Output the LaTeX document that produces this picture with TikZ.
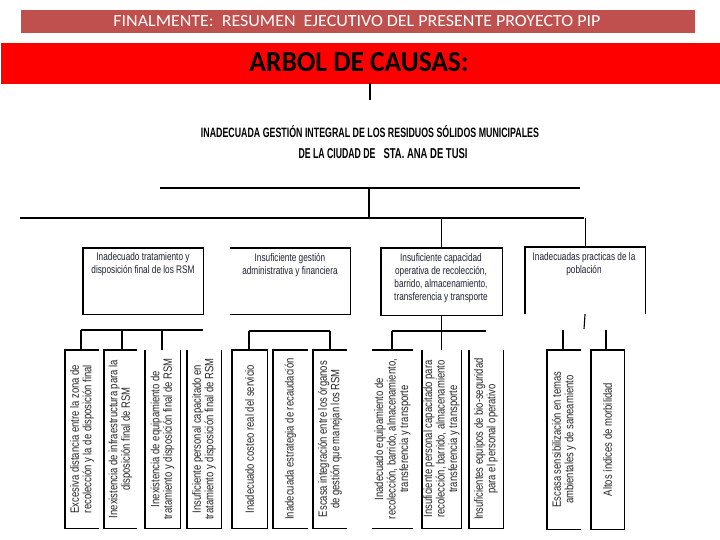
\documentclass[tikz,border=0pt]{standalone}
\usepackage{fontspec}
\setmainfont{Carlito}
\newfontfamily\lvfont[FakeStretch=0.75]{Liberation Sans}
\newfontfamily\btfont[FakeStretch=0.79]{Liberation Sans}
\newfontfamily\titlefont{Liberation Sans}
\definecolor{banner}{HTML}{C0504D}
\definecolor{txtdark}{HTML}{1E2233}
\begin{document}
\begin{tikzpicture}[x=1pt,y=-1pt,line width=1.1pt,
  frame/.style={draw=none,inner sep=0pt,anchor=north west},
  ltext/.style={inner sep=0pt,anchor=north,align=center,text=txtdark,
    font=\lvfont\fontsize{11}{13}\selectfont},
  btext/.style={inner sep=0pt,rotate=90,align=center,text=black!85,
    font=\btfont\fontsize{12}{12.5}\selectfont}]
\useasboundingbox (0,0) rectangle (720,540);
\fill[white] (0,0) rectangle (720,540);

% header banners
\node[frame,fill=banner,minimum width=674pt,minimum height=23pt] (hdr) at (20,9) {};
\node[text=white,inner sep=0pt] (hdrtext) at (357,21.5)
  {\resizebox{487pt}{11pt}{FINALMENTE:\ \ RESUMEN\ \ EJECUTIVO DEL PRESENTE PROYECTO PIP}};
\node[frame,fill=red,minimum width=720pt,minimum height=41pt] (band) at (0,42) {};
\node[inner sep=0pt] (bandtext) at (359,62.5)
  {\resizebox{219pt}{19pt}{\bfseries ARBOL DE CAUSAS:}};

% trunk and title
\coordinate (t0) at (370,83);
\coordinate (t1) at (370,100);
\draw (t0) -- (t1);
\node[inner sep=0pt] (title1) at (370,131.5)
  {\resizebox{338pt}{12pt}{\titlefont\bfseries INADECUADA GESTIÓN INTEGRAL DE LOS RESIDUOS SÓLIDOS MUNICIPALES}};
\node[inner sep=0pt,anchor=base west] (title2) at (298,159)
  {\resizebox{77pt}{10pt}{\titlefont\bfseries DE LA CIUDAD DE}};
\node[inner sep=0pt,anchor=base west] (title3) at (383,159)
  {\resizebox{84pt}{10pt}{\titlefont\bfseries STA. ANA DE TUSI}};

% upper connectors
\coordinate (h1l) at (160,188);
\coordinate (h1r) at (580,188);
\coordinate (j1) at (369,188);
\coordinate (j2) at (369,218);
\coordinate (h2l) at (20,218);
\coordinate (h2r) at (584,218);
\draw (h1l) -- (h1r);
\draw (j1) -- (j2);
\draw (h2l) -- (h2r);

% level-2 boxes
\node[frame,minimum width=119pt,minimum height=65pt] (bA) at (83,248) {};
\node[frame,minimum width=119pt,minimum height=65pt] (bB) at (230,248) {};
\node[frame,minimum width=120pt,minimum height=66pt] (bC) at (381,248) {};
\node[frame,minimum width=119pt,minimum height=66pt] (bD) at (525,247) {};
\draw (bA.north west) rectangle (bA.south east);
\draw (bB.north west) -- (bB.north east) -- (bB.south east) -- (bB.south west);
\draw (bC.north west) rectangle (bC.south east);
\draw (bD.south west) -- (bD.north west) -- (bD.north east) -- (bD.south east);
\draw (bC.north) -- (bC.north |- h2l);
\draw (bD.north) -- (bD.north |- h2l);

\node[ltext] (tA) at (143,252) {Inadecuado tratamiento y\\disposición final de los RSM};
\node[ltext] (tB) at (290,253) {Insuficiente gestión\\administrativa y financiera};
\node[ltext] (tC) at (441,252.5) {Insuficiente capacidad\\operativa de recolección,\\barrido, almacenamiento,\\transferencia y transporte};
\node[ltext] (tD) at (584,252) {Inadecuadas practicas de la\\población};

% bottom boxes
\node[frame,minimum width=33pt,minimum height=177pt] (b1) at (65,350) {};
\node[frame,minimum width=32pt,minimum height=177pt] (b2) at (104,350) {};
\node[frame,minimum width=34pt,minimum height=177pt] (b3) at (145,350) {};
\node[frame,minimum width=33pt,minimum height=177pt] (b4) at (187,350) {};
\node[frame,minimum width=34pt,minimum height=177pt] (b5) at (232,350) {};
\node[frame,minimum width=34pt,minimum height=177pt] (b6) at (273,350) {};
\node[frame,minimum width=33pt,minimum height=177pt] (b7) at (313,350) {};
\node[frame,minimum width=40pt,minimum height=177pt] (b8) at (372,350) {};
\node[frame,minimum width=38pt,minimum height=177pt] (b9) at (422,350) {};
\node[frame,minimum width=33pt,minimum height=177pt] (b10) at (469,350) {};
\node[frame,minimum width=33pt,minimum height=178pt] (b11) at (547,350) {};
\node[frame,minimum width=32pt,minimum height=178pt] (b12) at (591,350) {};

\draw (b1.north east) -- (b1.north west) -- (b1.south west) -- (b1.south east);
\draw (b2.north east) -- (b2.north west) -- (b2.south west) -- (b2.south east);
\draw (b3.north west) -- (b3.south west) -- (b3.south east) -- (b3.north east);
\draw (b4.north west) -- (b4.south west) -- (b4.south east) -- (b4.north east);
\draw (b5.north west) rectangle (b5.south east);
\draw (b6.north east) -- (b6.north west) -- (b6.south west) -- (b6.south east);
\draw (b7.north east) -- (b7.north west) -- (b7.south west) -- (b7.south east);
\draw (b8.north west) -- (b8.north east);
\draw (b8.south west) -- (b8.south east);
\draw (b9.north west) -- (b9.south west) -- (b9.south east) -- (b9.north east);
\draw (b10.north west) -- (b10.south west) -- (b10.south east) -- (b10.north east);
\draw (b11.north east) -- (b11.north west) -- (b11.south west) -- (b11.south east);
\draw (b12.north west) rectangle (b12.south east);

\node[btext] (x1) at (b1.center) {Excesiva distancia entre la zona de\\recolección y la de disposición final};
\node[btext] (x2) at (b2.center) {Inexistencia de infraestructura para la\\disposición final de RSM};
\node[btext] (x3) at (b3.center) {Inexistencia de equipamiento de\\tratamiento y disposición final de RSM};
\node[btext] (x4) at (b4.center) {Insuficiente personal capacitado en\\tratamiento y disposición final de RSM};
\node[btext] (x5) at (b5.center) {Inadecuado costeo real del servicio};
\node[btext] (x6) at (b6.center) {Inadecuada estrategia de recaudación};
\node[btext] (x7) at (b7.center) {Escasa integración entre los órganos\\de gestión que manejan los RSM};
\node[btext] (x8) at (b8.center) {Inadecuado equipamiento de\\recolección, barrido, almacenamiento,\\transferencia y transporte};
\node[btext] (x9) at (b9.center) {Insuficiente personal capacitado para\\recolección, barrido, almacenamiento\\transferencia y transporte};
\node[btext] (x10) at (b10.center) {Insuficientes equipos de bio-seguridad\\para el personal operativo};
\node[btext] (x11) at (b11.center) {Escasa sensibilización en temas\\ambientales y de saneamiento};
\node[btext] (x12) at (b12.center) {Altos índices de morbilidad};

% lower connectors, group A
\coordinate (ga1) at (81,330);
\coordinate (ga2) at (122,330);
\coordinate (ga3) at (162,330);
\coordinate (gaR) at (203,330);
\draw (ga1) -- (gaR);
\draw (ga1) -- (ga1 |- b1.north);
\draw (ga2) -- (ga2 |- b2.north);
\draw (ga3) -- (ga3 |- b3.north);
% group B
\coordinate (gb1) at (249,331);
\coordinate (gb2) at (330,331);
\draw (gb1) -- (gb2);
\draw (gb1) -- (gb1 |- b5.north);
\draw (gb2) -- (gb2 |- b7.north);
% group C
\coordinate (gc1) at (392,331);
\coordinate (gcR) at (486,331);
\draw (gc1) -- (gcR);
\draw (bC.south) -- (bC.south |- b9.north);
\draw (gc1) -- (gc1 |- b8.north);
% group D
\coordinate (gd0) at (584,329);
\coordinate (gd1) at (563,330);
\coordinate (gd2) at (606,330);
\draw (bD.south) -- (gd0);
\draw (gd1) -- (gd1 |- b11.north);
\draw (gd2) -- (gd2 |- b12.north);
\end{tikzpicture}
\end{document}
